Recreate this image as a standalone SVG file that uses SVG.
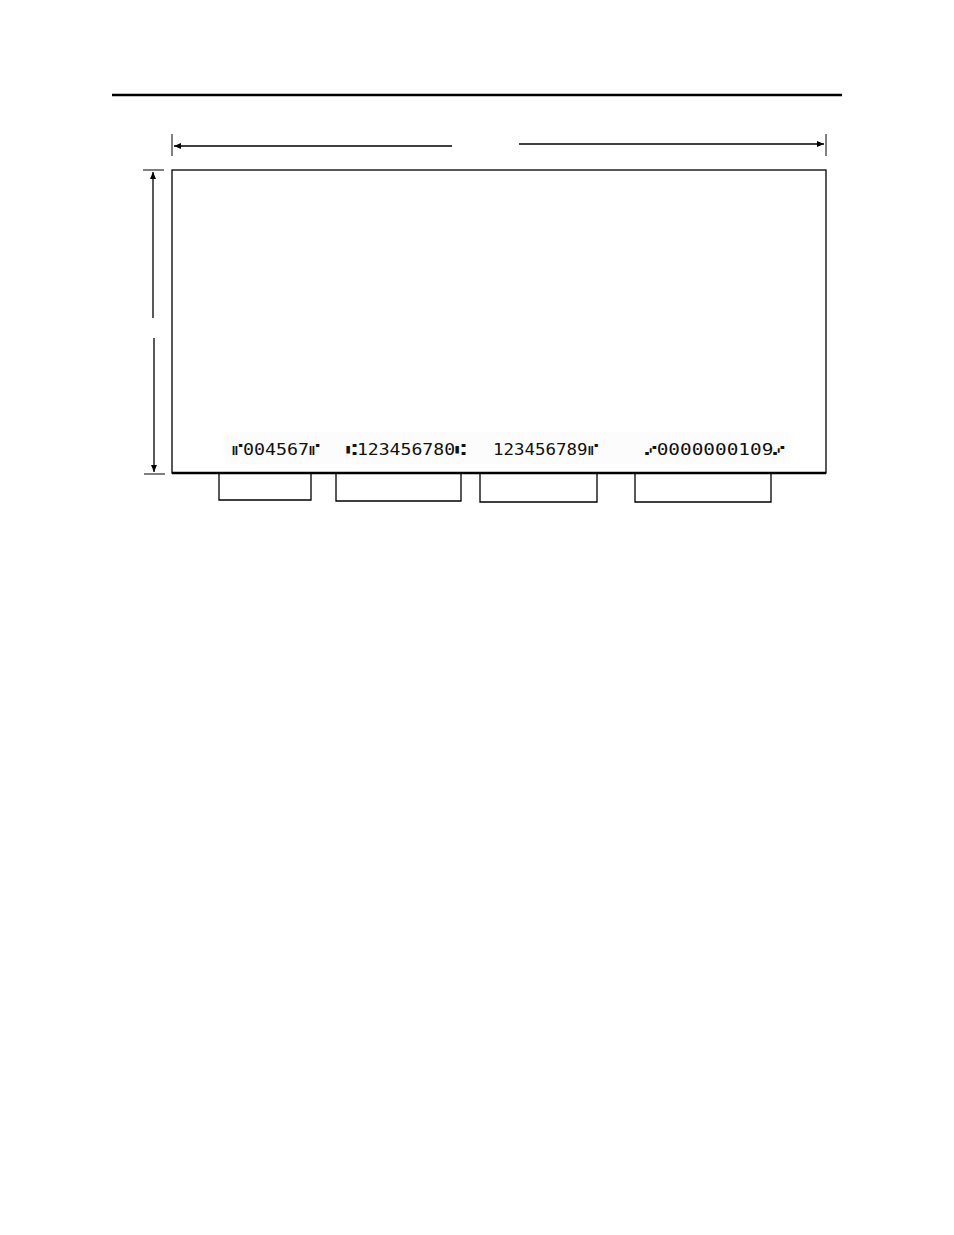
<svg xmlns="http://www.w3.org/2000/svg" width="954" height="1235" viewBox="0 0 954 1235">
<style>
.ln{stroke:#000;stroke-width:1.3;fill:none}
.micr{font-family:"DejaVu Sans Mono","DejaVu Sans",monospace;font-size:15px;fill:#111}
</style>
<defs>
<marker id="ah" markerWidth="8" markerHeight="8" refX="7" refY="4" orient="auto" markerUnits="userSpaceOnUse">
<path d="M0,1 L7,4 L0,7 Z" fill="#000"/>
</marker>
</defs>
<rect width="954" height="1235" fill="#fff"/>
<line x1="112" y1="95" x2="842" y2="95" stroke="#000" stroke-width="2.5"/>
<g id="check">
<rect x="172" y="170" width="654" height="303" class="ln"/>
<line x1="172" y1="473" x2="826" y2="473" stroke="#000" stroke-width="2.5"/>
<rect x="225" y="432" width="565" height="32" fill="#fcfcfc"/>
</g>
<g id="micr">
<text class="micr" x="232" y="455" textLength="88" lengthAdjust="spacingAndGlyphs">⑈004567⑈</text>
<text class="micr" x="346" y="455" textLength="120" lengthAdjust="spacingAndGlyphs">⑆123456780⑆</text>
<text class="micr" x="493" y="455" textLength="105" lengthAdjust="spacingAndGlyphs">123456789⑈</text>
<text class="micr" x="645" y="455" textLength="140" lengthAdjust="spacingAndGlyphs">⑇0000000109⑇</text>
</g>
<g id="box1"><path class="ln" d="M219,473 V500 H311 V473"/></g>
<g id="box2"><path class="ln" d="M336,473 V501 H461 V473"/></g>
<g id="box3"><path class="ln" d="M480,473 V502 H597 V473"/></g>
<g id="box4"><path class="ln" d="M635,473 V502 H771 V473"/></g>
<g id="connectors">
<line x1="172" y1="134" x2="172" y2="156" stroke="#000" stroke-width="1"/>
<line x1="826" y1="134" x2="826" y2="156" stroke="#000" stroke-width="1"/>
<line x1="452" y1="146" x2="174" y2="146" class="ln" marker-end="url(#ah)"/>
<line x1="519" y1="144" x2="824" y2="144" class="ln" marker-end="url(#ah)"/>
<line x1="143" y1="170" x2="164" y2="170" stroke="#000" stroke-width="1"/>
<line x1="144" y1="474" x2="165" y2="474" stroke="#000" stroke-width="1"/>
<line x1="153" y1="318" x2="153" y2="172" class="ln" marker-end="url(#ah)"/>
<line x1="154" y1="338" x2="154" y2="472" class="ln" marker-end="url(#ah)"/>
</g>
</svg>
